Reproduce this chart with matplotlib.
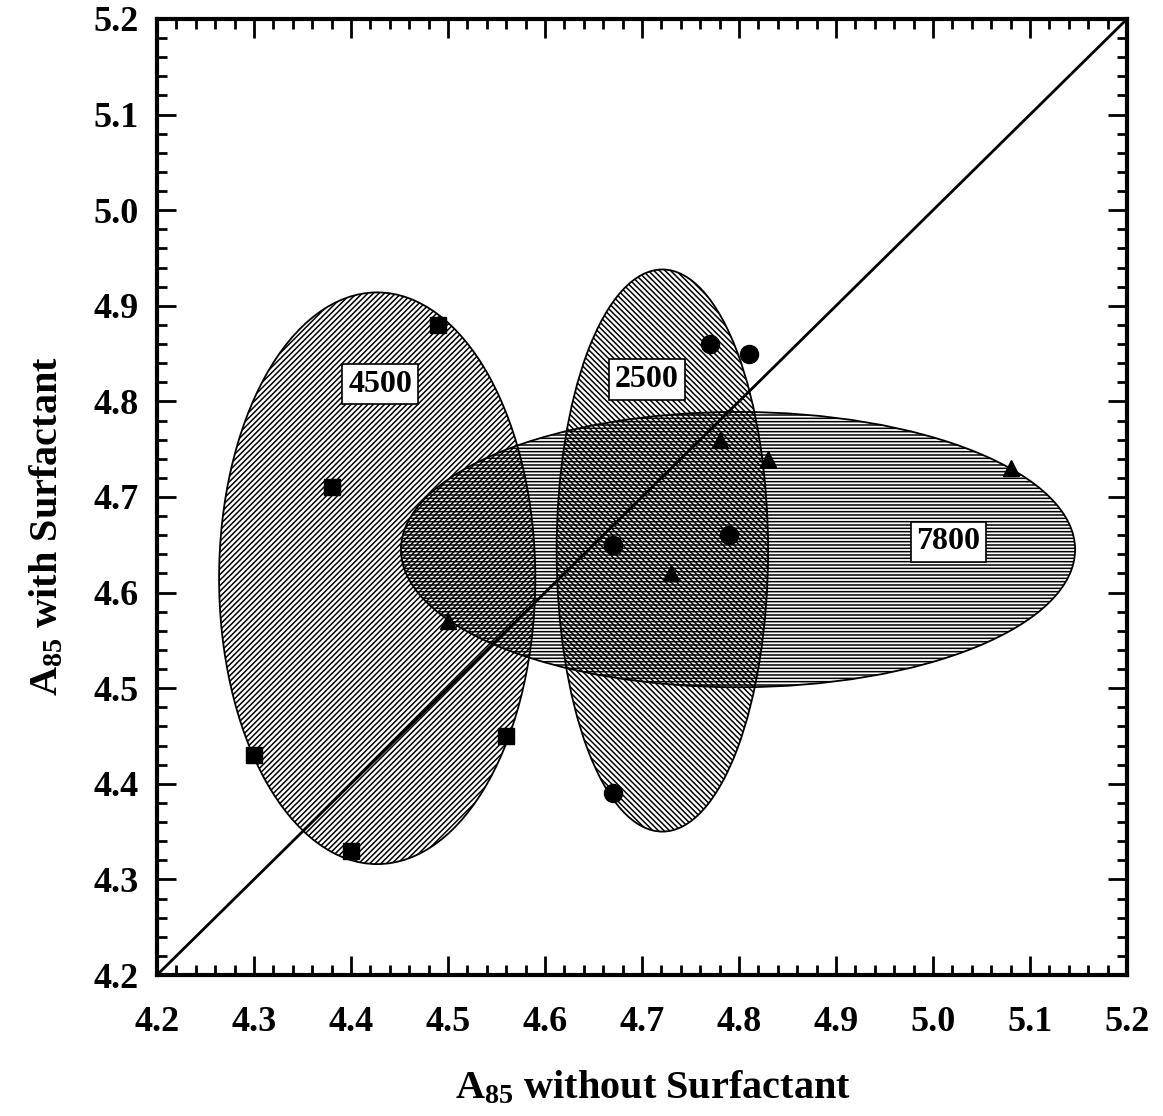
import matplotlib
matplotlib.use("Agg")
import matplotlib.pyplot as plt
from matplotlib.patches import Ellipse
from matplotlib.ticker import MultipleLocator

plt.rcParams['font.family'] = ['Liberation Serif', 'DejaVu Serif']
plt.rcParams['font.weight'] = 'bold'
plt.rcParams['mathtext.fontset'] = 'custom'
plt.rcParams['mathtext.bf'] = 'Liberation Serif:bold'
plt.rcParams['mathtext.rm'] = 'Liberation Serif:bold'
plt.rcParams['mathtext.default'] = 'bf'
plt.rcParams['hatch.linewidth'] = 1.1

# data
sq_x = [4.30, 4.38, 4.40, 4.49, 4.56]   # 4500
sq_y = [4.43, 4.71, 4.33, 4.88, 4.45]
ci_x = [4.67, 4.67, 4.77, 4.81, 4.79]   # 2500
ci_y = [4.65, 4.39, 4.86, 4.85, 4.66]
tr_x = [4.50, 4.73, 4.78, 4.83, 5.08]   # 7800
tr_y = [4.57, 4.62, 4.76, 4.74, 4.73]

# ellipses: center x, center y, width, height, hatch
ell_names = ['4500', '2500', '7800']
ell_cx = [4.427, 4.721, 4.799]
ell_cy = [4.615, 4.644, 4.645]
ell_w = [0.326, 0.218, 0.695]
ell_h = [0.598, 0.588, 0.288]
ell_hatch = ['//////', '\\\\\\\\\\\\', '-----']

lab_x = [4.43, 4.705, 5.016]
lab_y = [4.818, 4.823, 4.653]

fig = plt.figure(figsize=(11.63, 11.16), dpi=100)
ax = fig.add_axes([157/1163, 1 - 975/1116, 970/1163, 956/1116])

for i in range(len(ell_names)):
    e = Ellipse((ell_cx[i], ell_cy[i]), ell_w[i], ell_h[i], fill=False,
                hatch=ell_hatch[i], edgecolor='black', linewidth=1.3, zorder=2)
    ax.add_patch(e)

ax.plot([4.2, 5.2], [4.2, 5.2], color='black', linewidth=2, zorder=3)

ax.plot(sq_x, sq_y, 's', color='black', markersize=11, zorder=4)
ax.plot(ci_x, ci_y, 'o', color='black', markersize=13, zorder=4)
ax.plot(tr_x, tr_y, '^', color='black', markersize=12, zorder=4)

for i in range(len(ell_names)):
    ax.text(lab_x[i], lab_y[i], ell_names[i], fontsize=23, fontweight='bold',
            ha='center', va='center', zorder=5,
            bbox=dict(boxstyle='square,pad=0.18', facecolor='white',
                      edgecolor='black', linewidth=1.2))

ax.set_xlim(4.2, 5.2)
ax.set_ylim(4.2, 5.2)
ax.xaxis.set_major_locator(MultipleLocator(0.1))
ax.yaxis.set_major_locator(MultipleLocator(0.1))
ax.xaxis.set_minor_locator(MultipleLocator(0.02))
ax.yaxis.set_minor_locator(MultipleLocator(0.02))
ax.xaxis.set_major_formatter(plt.FormatStrFormatter('%.1f'))
ax.yaxis.set_major_formatter(plt.FormatStrFormatter('%.1f'))

ax.tick_params(which='both', direction='in', top=True, right=True, width=2)
ax.tick_params(which='major', length=14, labelsize=26)
ax.tick_params(axis='x', which='major', pad=22)
ax.tick_params(axis='y', which='major', pad=13)
ax.tick_params(which='minor', length=7)
for s in ax.spines.values():
    s.set_linewidth(3)

ax.set_xlabel(r'$A_{85}$ without Surfactant', fontsize=29, fontweight='bold', labelpad=22)
ax.xaxis.label.set_x(0.511)
ax.set_ylabel(r'$A_{85}$ with Surfactant', fontsize=29, fontweight='bold')
ax.yaxis.set_label_coords(-0.094, 0.47)

fig.savefig('out.png', dpi=100)
